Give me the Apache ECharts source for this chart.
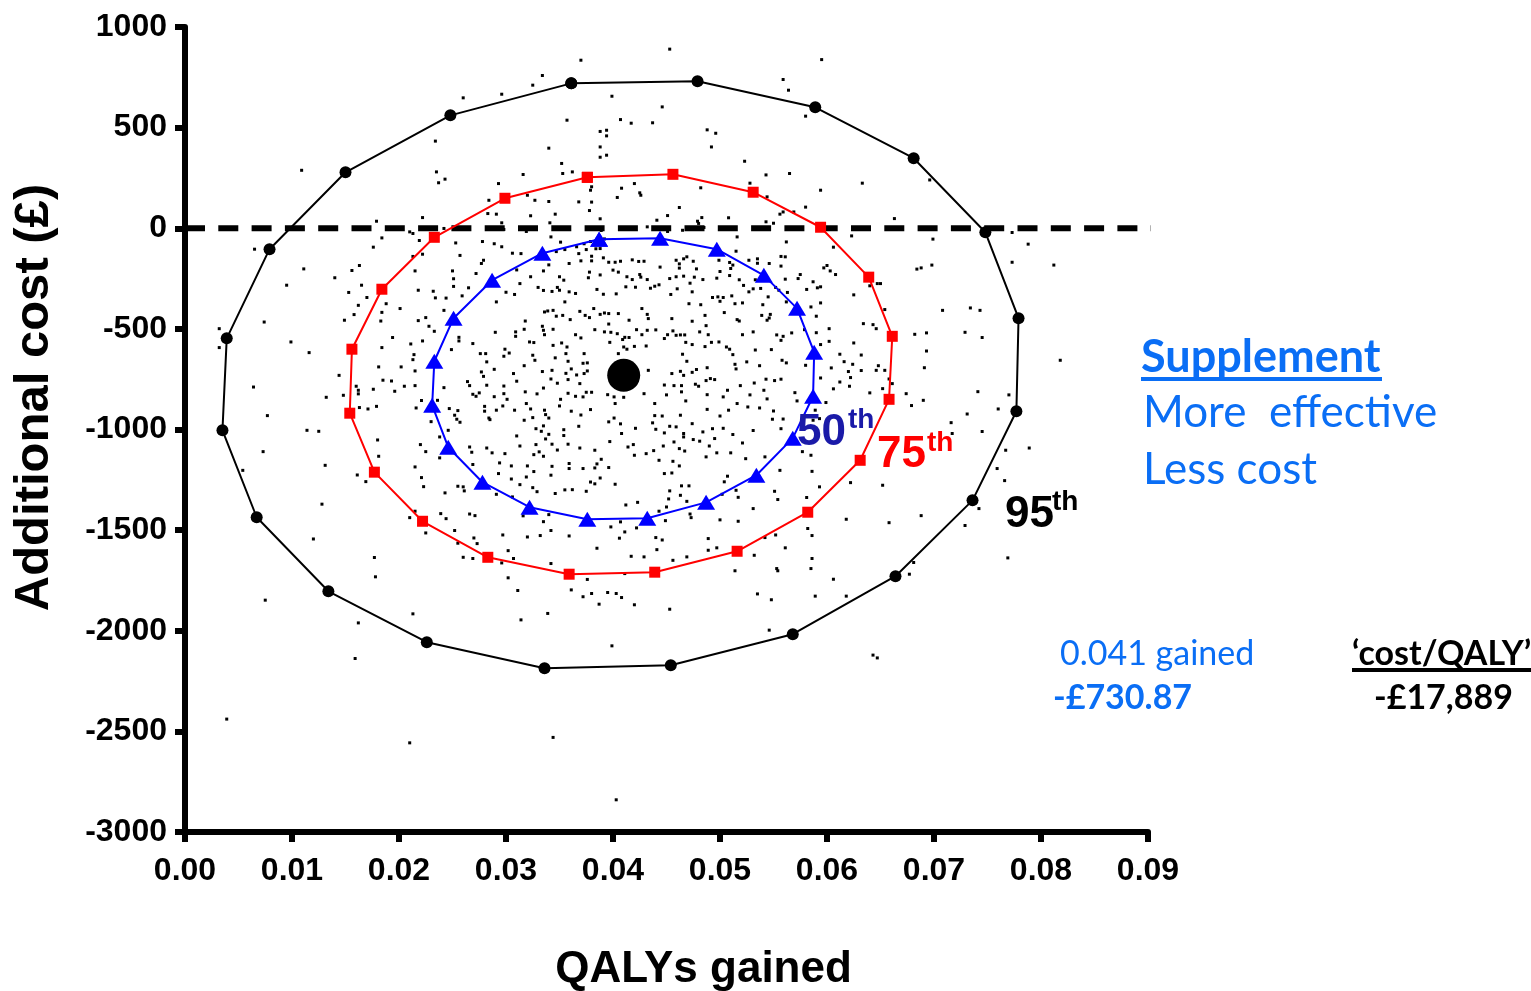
<!DOCTYPE html>
<html>
<head>
<meta charset="utf-8">
<script src="https://cdn.jsdelivr.net/npm/echarts@6.0.0/dist/echarts.min.js"></script>
<style>
html, body { margin: 0; padding: 0; background: #fff; }
#box1 { width: 1531px; height: 991px; }
</style>
</head>
<body>
<div id="box1"></div>
<script>
// bootstrap replicates: [QALYs gained, additional cost]
var dots = [
  // top left
  [0.0260,648],[0.0234,433],[0.0109,288],[0.0235,280],[0.0237,226],[0.0243,244],[0.0222,53],[0.0179,35],[0.0210,-18],[0.0213,-26],
  [0.0184,-48],[0.0219,-61],[0.0284,139],[0.0283,73],[0.0242,-1],[0.0065,-104],[0.0176,-94],[0.0253,-73],[0.0278,-66],[0.0213,-140],
  [0.0222,-129],[0.0257,-135],[0.0279,-159],[0.0277,-175],[0.0111,-202],[0.0156,-210],[0.0163,-185],[0.0215,-212],[0.0250,-212],[0.0272,-225],
  [0.0251,-251],[0.0140,-246],[0.0095,-283],[0.0165,-283],[0.0251,-289],[0.0265,-296],[0.0218,-308],[0.0232,-313],[0.0153,-319],[0.0170,-344],
  [0.0234,-346],[0.0244,-347],[0.0259,-336],
  // top right
  [0.0595,838],[0.0580,557],[0.0594,189],[0.0633,224],[0.0696,240],[0.0580,105],[0.0569,81],[0.0663,48],[0.0623,-38],[0.0606,-94],
  [0.0699,-54],[0.0773,-21],[0.0788,-79],[0.0773,-169],[0.0812,-183],[0.0698,-183],[0.0684,-203],[0.0688,-197],[0.0597,-197],[0.0600,-185],
  [0.0603,-212],[0.0608,-230],[0.0575,-230],[0.0573,-250],[0.0587,-266],[0.0581,-304],[0.0591,-296],[0.0594,-291],[0.0640,-286],[0.0647,-275],
  [0.0650,-275],[0.0625,-331],
  // top middle
  [0.0453,890],[0.0370,835],[0.0334,759],[0.0325,711],[0.0296,666],[0.0399,656],[0.0446,603],[0.0559,739],[0.0564,686],[0.0357,537],
  [0.0407,540],[0.0417,522],[0.0437,524],[0.0388,481],[0.0394,487],[0.0394,459],[0.0488,489],[0.0496,472],[0.0340,398],[0.0388,404],
  [0.0394,363],[0.0388,353],[0.0492,404],[0.0352,322],[0.0353,272],[0.0362,280],[0.0316,267],[0.0523,333],[0.0543,265],[0.0565,272],
  [0.0293,222],[0.0420,222],[0.0425,176],[0.0426,164],[0.0408,199],[0.0404,153],[0.0380,206],[0.0379,189],[0.0482,201],[0.0528,224],
  [0.0544,156],[0.0320,164],[0.0327,139],[0.0340,133],[0.0368,131],[0.0380,130],[0.0378,88],[0.0462,103],[0.0323,62],[0.0346,70],
  [0.0388,47],[0.0441,40],[0.0451,63],[0.0479,35],[0.0480,24],[0.0483,53],[0.0508,52],[0.0556,70],[0.0559,81],[0.0543,32],
  [0.0550,25],[0.0291,70],[0.0296,27],[0.0341,27],[0.0358,-3],[0.0319,-16],[0.0298,-6],[0.0389,-11],[0.0432,7],[0.0451,-16],
  [0.0465,-10],[0.0485,4],[0.0562,-68],[0.0516,-43],[0.0289,-77],[0.0296,-92],[0.0342,-43],[0.0351,-69],[0.0366,-92],[0.0373,-77],
  [0.0379,-66],[0.0392,-53],[0.0306,-124],[0.0314,-126],[0.0347,-116],[0.0355,-106],[0.0375,-106],[0.0384,-102],[0.0388,-101],[0.0459,-159],
  [0.0466,-152],[0.0469,-142],[0.0475,-164],[0.0499,-159],[0.0509,-170],[0.0515,-114],[0.0527,-159],[0.0535,-152],[0.0535,-174],[0.0546,-175],
  [0.0557,-140],[0.0561,-142],[0.0557,-188],[0.0368,-126],[0.0370,-162],[0.0359,-175],[0.0380,-139],[0.0380,-162],[0.0391,-147],[0.0396,-169],
  [0.0402,-169],[0.0407,-164],[0.0418,-157],[0.0424,-165],[0.0429,-164],[0.0444,-193],[0.0462,-177],[0.0462,-198],[0.0478,-202],[0.0500,-215],
  [0.0510,-200],[0.0512,-183],[0.0518,-256],[0.0335,-212],[0.0340,-182],[0.0310,-207],[0.0313,-275],[0.0323,-241],[0.0350,-241],[0.0354,-258],
  [0.0377,-246],[0.0378,-218],[0.0388,-232],[0.0400,-208],[0.0405,-218],[0.0413,-241],[0.0418,-255],[0.0425,-230],[0.0426,-243],[0.0432,-255],
  [0.0443,-281],[0.0453,-250],[0.0459,-241],[0.0466,-238],[0.0476,-243],[0.0484,-255],[0.0497,-248],[0.0509,-235],[0.0522,-284],[0.0531,-301],
  [0.0533,-256],[0.0545,-341],[0.0561,-253],[0.0563,-319],[0.0300,-318],[0.0308,-329],[0.0330,-294],[0.0335,-309],[0.0343,-314],[0.0348,-294],
  [0.0350,-308],[0.0359,-316],[0.0365,-324],[0.0385,-304],[0.0391,-328],[0.0403,-326],[0.0412,-291],[0.0421,-293],[0.0435,-298],[0.0439,-288],
  [0.0454,-329],[0.0460,-301],[0.0472,-273],[0.0474,-316],[0.0493,-344],[0.0498,-341],[0.0503,-344],[0.0511,-336],[0.0527,-316],[0.0538,-299],
  [0.0552,-294],[0.0555,-308],
  // middle left
  [0.0162,-383],[0.0188,-375],[0.0201,-399],[0.0158,-429],[0.0149,-457],[0.0184,-418],[0.0183,-461],[0.0032,-499],[0.0032,-593],[0.0074,-466],
  [0.0099,-565],[0.0116,-618],[0.0184,-593],[0.0194,-543],[0.0211,-575],[0.0222,-560],[0.0214,-628],[0.0213,-653],[0.0225,-444],[0.0218,-459],
  [0.0228,-487],[0.0233,-512],[0.0242,-408],[0.0256,-542],[0.0256,-560],[0.0269,-573],[0.0249,-603],[0.0276,-623],[0.0281,-623],[0.0282,-664],
  [0.0279,-736],[0.0277,-714],[0.0282,-780],[0.0264,-762],[0.0266,-782],[0.0269,-825],[0.0275,-818],[0.0272,-835],[0.0144,-731],[0.0181,-689],
  [0.0202,-689],[0.0185,-755],[0.0193,-759],[0.0196,-810],[0.0215,-709],[0.0215,-782],[0.0205,-785],[0.0176,-800],[0.0162,-805],[0.0162,-823],
  [0.0160,-785],[0.0148,-830],[0.0132,-840],[0.0064,-789],[0.0077,-931],[0.0163,-891],[0.0171,-898],[0.0179,-885],[0.0216,-893],[0.0221,-856],
  [0.0236,-855],[0.0242,-792],[0.0247,-896],[0.0255,-906],[0.0252,-929],[0.0254,-949],[0.0257,-964],[0.0280,-885],[0.0280,-909],[0.0284,-943],
  [0.0230,-961],[0.0114,-1004],[0.0125,-1009],[0.0073,-1110],[0.0054,-1203],[0.0131,-1178],[0.0180,-1052],[0.0181,-1133],[0.0220,-1075],[0.0225,-1110],
  [0.0238,-1037],[0.0246,-1004],[0.0238,-1141],[0.0266,-1087],[0.0268,-1113],[0.0282,-1092],[0.0269,-1174],[0.0215,-1186],[0.0221,-1239],[0.0223,-1284],
  [0.0243,-1315],[0.0255,-1282],[0.0260,-1285],[0.0261,-1305],[0.0161,-1226],[0.0169,-1259],[0.0128,-1371],[0.0120,-1544],[0.0177,-1636],[0.0210,-1438],
  [0.0215,-1406],[0.0239,-1418],[0.0244,-1443],[0.0266,-1420],[0.0271,-1428],[0.0252,-1502],[0.0225,-1514],[0.0255,-1565],[0.0270,-1539],[0.0273,-1567],
  [0.0260,-1635],[0.0269,-1641],
  // centre
  [0.0291,-366],[0.0355,-366],[0.0471,-375],[0.0482,-380],[0.0500,-363],[0.0514,-375],[0.0521,-371],[0.0540,-380],[0.0562,-366],[0.0339,-411],
  [0.0344,-408],[0.0336,-416],[0.0353,-433],[0.0347,-437],[0.0360,-454],[0.0369,-413],[0.0374,-433],[0.0378,-444],[0.0382,-399],[0.0388,-428],
  [0.0392,-421],[0.0396,-424],[0.0405,-424],[0.0415,-457],[0.0427,-399],[0.0432,-428],[0.0433,-449],[0.0455,-449],[0.0474,-462],[0.0486,-433],
  [0.0504,-419],[0.0516,-454],[0.0518,-461],[0.0539,-433],[0.0547,-428],[0.0546,-446],[0.0318,-461],[0.0290,-517],[0.0309,-515],[0.0309,-537],
  [0.0317,-502],[0.0322,-565],[0.0326,-568],[0.0334,-487],[0.0335,-507],[0.0336,-529],[0.0344,-502],[0.0344,-582],[0.0352,-570],[0.0357,-590],
  [0.0365,-529],[0.0370,-545],[0.0383,-504],[0.0392,-515],[0.0396,-476],[0.0398,-517],[0.0404,-524],[0.0411,-542],[0.0415,-543],[0.0409,-553],
  [0.0422,-504],[0.0427,-529],[0.0432,-507],[0.0440,-505],[0.0448,-548],[0.0451,-529],[0.0456,-510],[0.0459,-532],[0.0463,-530],[0.0467,-530],
  [0.0468,-567],[0.0481,-515],[0.0487,-484],[0.0489,-529],[0.0492,-567],[0.0499,-565],[0.0506,-590],[0.0521,-529],[0.0531,-515],[0.0553,-530],
  [0.0559,-537],[0.0557,-557],[0.0544,-457],[0.0299,-601],[0.0303,-620],[0.0298,-636],[0.0325,-631],[0.0327,-656],[0.0346,-644],[0.0356,-623],
  [0.0358,-661],[0.0373,-623],[0.0376,-669],[0.0397,-567],[0.0410,-590],[0.0413,-601],[0.0420,-587],[0.0431,-585],[0.0405,-623],[0.0465,-626],
  [0.0469,-661],[0.0474,-578],[0.0486,-588],[0.0509,-601],[0.0512,-628],[0.0514,-676],[0.0525,-664],[0.0533,-605],[0.0548,-603],[0.0558,-656],
  [0.0562,-669],[0.0488,-693],[0.0515,-699],[0.0537,-683],[0.0289,-701],[0.0317,-683],[0.0334,-712],[0.0343,-706],[0.0361,-699],[0.0373,-722],
  [0.0376,-709],[0.0366,-729],[0.0356,-721],[0.0372,-671],[0.0307,-722],[0.0310,-760],[0.0298,-784],[0.0298,-822],[0.0318,-813],[0.0329,-823],
  [0.0335,-794],[0.0342,-749],[0.0348,-770],[0.0358,-752],[0.0369,-772],[0.0375,-815],[0.0380,-815],[0.0351,-850],[0.0358,-820],[0.0365,-835],
  [0.0372,-838],[0.0395,-827],[0.0401,-838],[0.0410,-840],[0.0402,-871],[0.0433,-706],[0.0429,-822],[0.0455,-722],[0.0463,-711],[0.0466,-731],
  [0.0474,-716],[0.0478,-702],[0.0477,-775],[0.0480,-785],[0.0487,-757],[0.0488,-827],[0.0491,-747],[0.0495,-752],[0.0503,-838],[0.0507,-805],
  [0.0519,-782],[0.0528,-828],[0.0532,-769],[0.0543,-750],[0.0551,-757],[0.0557,-750],[0.0541,-805],[0.0544,-848],[0.0457,-782],[0.0464,-782],
  [0.0464,-813],[0.0448,-779],[0.0301,-850],[0.0289,-837],[0.0468,-858],[0.0450,-828],[0.0297,-883],[0.0308,-904],[0.0319,-871],[0.0323,-898],
  [0.0325,-941],[0.0336,-904],[0.0337,-926],[0.0340,-943],[0.0361,-909],[0.0370,-928],[0.0379,-901],[0.0350,-883],[0.0291,-904],[0.0285,-951],
  [0.0317,-954],[0.0328,-996],[0.0335,-982],[0.0333,-1009],[0.0340,-1024],[0.0368,-984],[0.0354,-1001],[0.0396,-962],[0.0401,-943],[0.0407,-972],
  [0.0421,-994],[0.0437,-967],[0.0439,-871],[0.0439,-931],[0.0446,-933],[0.0463,-929],[0.0440,-999],[0.0453,-984],[0.0459,-987],[0.0474,-971],
  [0.0488,-900],[0.0500,-933],[0.0508,-904],[0.0516,-871],[0.0526,-888],[0.0537,-893],[0.0550,-908],[0.0549,-949],[0.0559,-948],[0.0484,-1012],
  [0.0493,-996],[0.0503,-994],[0.0512,-1025],[0.0531,-1005],[0.0557,-996],[0.0408,-1020],[0.0466,-1020],[0.0448,-1017],[0.0310,-1032],[0.0313,-1082],
  [0.0328,-1075],[0.0331,-1111],[0.0337,-1047],[0.0343,-1073],[0.0354,-1030],[0.0348,-1102],[0.0335,-1133],[0.0358,-1073],[0.0369,-1092],[0.0383,-1103],
  [0.0343,-1183],[0.0359,-1169],[0.0320,-1181],[0.0326,-1125],[0.0299,-1120],[0.0287,-1116],[0.0294,-1166],[0.0397,-1060],[0.0414,-1087],[0.0419,-1075],
  [0.0420,-1128],[0.0431,-1120],[0.0438,-1105],[0.0447,-1082],[0.0457,-1062],[0.0462,-1095],[0.0466,-1037],[0.0475,-1050],[0.0481,-1058],[0.0490,-1082],
  [0.0495,-1045],[0.0510,-1116],[0.0497,-1116],[0.0487,-1136],[0.0521,-1067],[0.0524,-1145],[0.0542,-1136],[0.0467,-1107],[0.0456,-1158],[0.0462,-1181],
  [0.0443,-1153],[0.0448,-1219],[0.0455,-1216],[0.0389,-1148],[0.0385,-1171],[0.0383,-1191],[0.0396,-1189],[0.0372,-1194],[0.0305,-1181],[0.0293,-1219],
  [0.0359,-1194],[0.0342,-1227],[0.0326,-1209],[0.0319,-1236],[0.0305,-1246],[0.0313,-1274],[0.0325,-1289],[0.0329,-1309],[0.0346,-1318],[0.0355,-1300],
  [0.0362,-1299],[0.0375,-1307],[0.0383,-1270],[0.0402,-1272],[0.0388,-1241],[0.0379,-1261],[0.0453,-1305],[0.0464,-1280],[0.0471,-1280],[0.0463,-1327],
  [0.0452,-1345],[0.0450,-1385],[0.0412,-1375],[0.0423,-1362],[0.0443,-1406],[0.0469,-1357],[0.0472,-1420],[0.0507,-1232],[0.0515,-1302],[0.0517,-1337],
  [0.0504,-1260],[0.0556,-1203],[0.0551,-1307],[0.0554,-1348],[0.0531,-1393],[0.0502,-1322],[0.0306,-1335],[0.0291,-1322],[0.0316,-1429],[0.0335,-1458],
  [0.0340,-1423],[0.0297,-1524],[0.0320,-1534],[0.0332,-1527],[0.0342,-1502],[0.0359,-1529],[0.0398,-1484],[0.0406,-1540],[0.0411,-1509],[0.0407,-1459],
  [0.0422,-1489],[0.0440,-1537],[0.0446,-1549],[0.0449,-1453],[0.0473,-1438],[0.0489,-1542],[0.0497,-1588],[0.0500,-1449],[0.0517,-1456],[0.0542,-1537],
  [0.0552,-1524],[0.0561,-1588],[0.0532,-1625],[0.0385,-1590],[0.0441,-1597],[0.0417,-1630],[0.0429,-1633],[0.0456,-1650],[0.0469,-1633],[0.0489,-1600],
  [0.0553,-1691],[0.0302,-1602],[0.0307,-1641],[0.0296,-1663],[0.0342,-1666],
  // middle right
  [0.0585,-391],[0.0594,-371],[0.0590,-437],[0.0567,-520],[0.0579,-504],[0.0590,-519],[0.0602,-499],[0.0602,-562],[0.0594,-578],[0.0625,-570],
  [0.0612,-626],[0.0616,-663],[0.0624,-676],[0.0632,-630],[0.0634,-474],[0.0643,-479],[0.0646,-499],[0.0604,-694],[0.0632,-707],[0.0648,-683],
  [0.0646,-706],[0.0654,-706],[0.0620,-712],[0.0622,-742],[0.0621,-785],[0.0594,-744],[0.0612,-764],[0.0606,-798],[0.0580,-681],[0.0570,-817],
  [0.0572,-858],[0.0599,-866],[0.0589,-904],[0.0640,-818],[0.0652,-797],[0.0658,-749],[0.0661,-772],[0.0654,-404],[0.0674,-822],[0.0679,-881],
  [0.0690,-855],[0.0682,-527],[0.0693,-520],[0.0693,-610],[0.0691,-693],[0.0708,-408],[0.0734,-396],[0.0743,-408],[0.0729,-517],[0.0745,-543],
  [0.0741,-812],[0.0731,-923],[0.0770,-828],[0.0760,-898],[0.0716,-966],[0.0717,-1020],[0.0745,-1010],[0.0767,-1103],[0.0789,-1092],[0.0818,-656],
  [0.0759,-1194],[0.0766,-1254],[0.0622,-1264],[0.0652,-1277],[0.0593,-1285],[0.0586,-1208],[0.0577,-1110],[0.0585,-1128],[0.0581,-1338],[0.0618,-1446],
  [0.0658,-1463],[0.0688,-1428],[0.0582,-1492],[0.0586,-1527],[0.0586,-1641],[0.0585,-1691],[0.0681,-1661],[0.0729,-1477],[0.0742,-1393],[0.0769,-1638],
  [0.0587,-954],[0.0593,-946],
  // bottom
  [0.0178,-1732],[0.0075,-1848],[0.0213,-1916],[0.0162,-1961],[0.0159,-2138],[0.0039,-2439],[0.0210,-2557],
  [0.0302,-1737],[0.0311,-1800],[0.0314,-1946],[0.0339,-1914],[0.0361,-1797],[0.0372,-1831],[0.0376,-1745],[0.0380,-1815],[0.0387,-1868],[0.0395,-1810],
  [0.0403,-1815],[0.0408,-1835],[0.0420,-1871],[0.0411,-1716],[0.0453,-1893],[0.0399,-2075],[0.0344,-2530],[0.0403,-2840],[0.0514,-1702],[0.0535,-1817],
  [0.0548,-1846],[0.0546,-1997],[0.0554,-1702],
  [0.0606,-1744],[0.0589,-1828],[0.0618,-1828],[0.0643,-2121],[0.0647,-2135],[0.0677,-1719]
];

// confidence ellipses (closed polygons)
var p95 = [
  [0.0361,720],[0.0479,730],[0.0589,601],[0.0681,348],[0.0748,-20],[0.0779,-447],[0.0777,-909],[0.0736,-1352],[0.0664,-1729],[0.0568,-2017],
  [0.0454,-2171],[0.0336,-2186],[0.0226,-2057],[0.0134,-1804],[0.0067,-1436],[0.0035,-1004],[0.0039,-547],[0.0079,-104],[0.0150,278],[0.0248,561],
  [0.0361,720]
];
var p75 = [
  [0.0376,253],[0.0456,268],[0.0531,179],[0.0594,5],[0.0639,-243],[0.0661,-537],[0.0658,-850],[0.0631,-1153],[0.0582,-1411],[0.0516,-1605],
  [0.0439,-1709],[0.0359,-1719],[0.0283,-1635],[0.0222,-1456],[0.0177,-1212],[0.0154,-919],[0.0156,-601],[0.0184,-303],[0.0233,-45],[0.0299,149],
  [0.0376,253]
];
var p50 = [
  [0.0387,-55],[0.0444,-50],[0.0497,-104],[0.0541,-234],[0.0572,-398],[0.0588,-616],[0.0587,-835],[0.0568,-1043],[0.0534,-1227],[0.0487,-1362],
  [0.0432,-1441],[0.0376,-1446],[0.0322,-1386],[0.0278,-1262],[0.0246,-1088],[0.0231,-880],[0.0233,-661],[0.0251,-447],[0.0287,-258],[0.0334,-124],
  [0.0387,-55]
];
var meanPoint = [[0.041, -730.87]];
var zeroLine = [[0, 0], [0.0920, 0]];

var xTicks = { min: 0, max: 0.09, step: 0.01 };
var yTicks = { min: -3000, max: 1000, step: 500 };

var boldFont = '"Liberation Sans", Arial, sans-serif';
var textFont = 'Lato, "Open Sans", sans-serif';
var noteBlue = '#0a6ef5';

var chart = echarts.init(document.getElementById('box1'));

var option = {
  animation: false,
  backgroundColor: '#fff',
  grid: { left: 185, top: 27, right: 383, bottom: 159, outerBoundsMode: 'none' },
  xAxis: {
    type: 'value',
    min: xTicks.min, max: xTicks.max, interval: xTicks.step,
    name: 'QALYs gained',
    nameLocation: 'middle',
    nameGap: 116,
    nameTextStyle: {
      fontFamily: boldFont, fontWeight: 'bold', fontSize: 44, color: '#000',
      padding: [0, 0, 0, 74]
    },
    axisLine: { onZero: false, lineStyle: { color: '#000', width: 6 } },
    axisTick: { length: 10, lineStyle: { color: '#000', width: 6 } },
    axisLabel: {
      margin: 23, fontFamily: boldFont, fontWeight: 'bold', fontSize: 32, color: '#000',
      formatter: function (v) { return v.toFixed(2); }
    },
    splitLine: { show: false }
  },
  yAxis: {
    type: 'value',
    min: yTicks.min, max: yTicks.max, interval: yTicks.step,
    name: 'Additional cost (£)',
    nameLocation: 'middle',
    nameGap: 126,
    nameTextStyle: {
      fontFamily: boldFont, fontWeight: 'bold', fontSize: 49, color: '#000',
      padding: [0, 0, 0, 64]
    },
    axisLine: { show: true, onZero: false, lineStyle: { color: '#000', width: 6 } },
    axisTick: { show: true, length: 10, lineStyle: { color: '#000', width: 6 } },
    axisLabel: {
      margin: 18, fontFamily: boldFont, fontWeight: 'bold', fontSize: 32, color: '#000',
      formatter: function (v) { return String(v); }
    },
    splitLine: { show: false }
  },
  series: [
    {
      name: 'replicates', type: 'scatter', data: dots,
      symbol: 'rect', symbolSize: 3, itemStyle: { color: '#000', opacity: 1 }, z: 2
    },
    {
      name: 'zero', type: 'line', data: zeroLine, clip: false, showSymbol: false, symbol: 'none',
      lineStyle: { color: '#000', width: 6, type: [20, 13.3] }, z: 3
    },
    {
      name: '95th', type: 'line', data: p95, symbol: 'circle', symbolSize: 12,
      itemStyle: { color: '#000', opacity: 1 }, lineStyle: { color: '#000', width: 2 }, z: 4
    },
    {
      name: '75th', type: 'line', data: p75, symbol: 'rect', symbolSize: 11,
      itemStyle: { color: '#ff0000', opacity: 1 }, lineStyle: { color: '#ff0000', width: 2 }, z: 4
    },
    {
      name: '50th', type: 'line', data: p50, symbol: 'triangle', symbolSize: [18, 15],
      itemStyle: { color: '#0000ff', opacity: 1 }, lineStyle: { color: '#0000ff', width: 2 }, z: 4
    },
    {
      name: 'mean', type: 'scatter', data: meanPoint, symbol: 'circle', symbolSize: 33,
      itemStyle: { color: '#000', opacity: 1 }, z: 5
    }
  ],
  graphic: [
    // percentile labels
    { type: 'text', x: 797, y: 433, z: 10, style: { text: '50', font: 'bold 44px ' + boldFont, fill: '#1a1aa8', verticalAlign: 'middle' } },
    { type: 'text', x: 848, y: 420, z: 10, style: { text: 'th', font: 'bold 28px ' + boldFont, fill: '#1a1aa8', verticalAlign: 'middle' } },
    { type: 'text', x: 877, y: 455, z: 10, style: { text: '75', font: 'bold 44px ' + boldFont, fill: '#ff0000', verticalAlign: 'middle' } },
    { type: 'text', x: 927, y: 443, z: 10, style: { text: 'th', font: 'bold 28px ' + boldFont, fill: '#ff0000', verticalAlign: 'middle' } },
    { type: 'text', x: 1005, y: 515, z: 10, style: { text: '95', font: 'bold 44px ' + boldFont, fill: '#000', verticalAlign: 'middle' } },
    { type: 'text', x: 1052, y: 502, z: 10, style: { text: 'th', font: 'bold 28px ' + boldFont, fill: '#000', verticalAlign: 'middle' } },
    // quadrant note
    { type: 'text', x: 1141, y: 357, style: { text: 'Supplement', font: 'bold 45px ' + textFont, fill: noteBlue, verticalAlign: 'middle' } },
    { type: 'rect', shape: { x: 1141, y: 377, width: 241, height: 4 }, style: { fill: noteBlue } },
    { type: 'text', x: 1143, y: 413, style: { text: 'More  effective', font: '44px ' + textFont, fill: noteBlue, verticalAlign: 'middle' } },
    { type: 'text', x: 1143, y: 470, style: { text: 'Less cost', font: '44px ' + textFont, fill: noteBlue, verticalAlign: 'middle' } },
    // summary figures
    { type: 'text', x: 1060, y: 654, style: { text: '0.041 gained', font: '34px ' + textFont, fill: noteBlue, verticalAlign: 'middle' } },
    { type: 'text', x: 1053, y: 698, style: { text: '-£730.87', font: 'bold 34px ' + textFont, fill: noteBlue, verticalAlign: 'middle' } },
    { type: 'text', x: 1352, y: 654, style: { text: '\u2018cost/QALY\u2019', font: 'bold 34px ' + textFont, fill: '#000', verticalAlign: 'middle' } },
    { type: 'rect', shape: { x: 1352, y: 668, width: 179, height: 4 }, style: { fill: '#000' } },
    { type: 'text', x: 1374, y: 698, style: { text: '-£17,889', font: 'bold 34px ' + textFont, fill: '#000', verticalAlign: 'middle' } }
  ]
};

chart.setOption(option);
</script>
</body>
</html>
